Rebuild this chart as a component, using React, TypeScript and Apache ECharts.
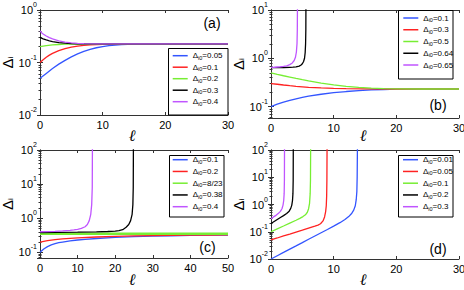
import React, { useEffect, useRef } from 'react';
import * as echarts from 'echarts';

// ---------- data (ℓ, Δ_i) ----------
// panel (a)
const A_LABELS = ['0.05', '0.1', '0.2', '0.3', '0.4'];
const aBlue = [[0,0.05],[1,0.062],[2,0.077],[3,0.093],[4,0.11],[5,0.128],[6,0.146],[7,0.163],[8,0.178],[9,0.191],[10,0.201],[11,0.209],[12,0.215],[13,0.219],[14,0.221],[16,0.224],[18,0.225],[22,0.226],[30,0.226]];
const aRed = [[0,0.1],[0.5,0.113],[1,0.126],[1.5,0.138],[2,0.149],[3,0.168],[4,0.184],[5,0.196],[6,0.205],[7,0.212],[8,0.217],[10,0.222],[12,0.225],[15,0.226],[30,0.226]];
const aGreen = [[0,0.2],[0.5,0.205],[1,0.21],[2,0.216],[3,0.22],[4,0.223],[6,0.225],[8,0.226],[30,0.226]];
const aBlack = [[0,0.3],[0.5,0.283],[1,0.27],[1.5,0.259],[2,0.251],[3,0.24],[4,0.233],[5,0.229],[6,0.227],[8,0.226],[30,0.226]];
const aViolet = [[0,0.4],[0.25,0.37],[0.5,0.35],[1,0.32],[1.5,0.298],[2,0.281],[3,0.259],[4,0.245],[5,0.236],[6,0.231],[7,0.228],[9,0.226],[30,0.226]];

// panel (b)
const B_LABELS = ['0.1', '0.3', '0.5', '0.64', '0.65'];
const bBlue = [[0,0.1],[1,0.112],[2,0.124],[3,0.135],[4,0.145],[5,0.155],[6,0.164],[8,0.18],[10,0.194],[12,0.205],[14,0.214],[16,0.221],[18,0.226],[20,0.229],[24,0.231],[30,0.231]];
const bRed = [[0,0.3],[1,0.29],[2,0.28],[3,0.271],[4,0.263],[6,0.251],[8,0.243],[10,0.238],[12,0.235],[15,0.232],[20,0.231],[30,0.231]];
const bGreen = [[0,0.5],[1,0.465],[2,0.435],[3,0.408],[4,0.383],[5,0.361],[6,0.341],[8,0.307],[10,0.281],[12,0.262],[14,0.249],[16,0.241],[18,0.236],[20,0.233],[24,0.231],[30,0.231]];
const bBlack = [[0,0.64],[1,0.642],[2,0.645],[3,0.65],[3.5,0.656],[4,0.667],[4.5,0.69],[4.8,0.725],[5.0,0.77],[5.2,0.86],[5.35,1.0],[5.45,1.3],[5.52,2],[5.56,4],[5.58,20]];
const bViolet = [[0,0.65],[0.5,0.652],[1,0.66],[1.5,0.668],[2,0.68],[2.5,0.7],[3,0.74],[3.4,0.8],[3.7,0.9],[3.9,1.05],[4.05,1.35],[4.15,2],[4.2,4],[4.23,20]];

// panel (c)
const C_LABELS = ['0.1', '0.2', '8/23', '0.38', '0.4'];
const cBlue = [[0,0.1],[1,0.125],[2,0.147],[3,0.165],[4,0.179],[5,0.191],[6,0.2],[8,0.216],[10,0.229],[12,0.24],[15,0.254],[20,0.272],[25,0.287],[30,0.298],[35,0.306],[40,0.312],[45,0.317],[50,0.32]];
const cRed = [[0,0.2],[1,0.21],[2,0.219],[4,0.234],[6,0.246],[8,0.256],[10,0.265],[15,0.281],[20,0.293],[25,0.302],[30,0.309],[35,0.314],[40,0.318],[45,0.321],[50,0.323]];
const cGreen = [[0,0.348],[50,0.348]];
const cBlack = [[0,0.38],[5,0.384],[10,0.39],[15,0.398],[18,0.407],[20,0.418],[21,0.43],[22,0.46],[22.9,0.54],[23.6,0.65],[24.1,0.85],[24.5,1.3],[24.7,2.5],[24.8,8],[24.85,200]];
const cViolet = [[0,0.4],[2,0.405],[4,0.413],[6,0.424],[8,0.44],[9,0.453],[10,0.47],[11,0.5],[12,0.56],[12.6,0.65],[13.1,0.85],[13.5,1.3],[13.75,2.5],[13.9,8],[13.95,200]];

// panel (d)
const D_LABELS = ['0.01', '0.05', '0.1', '0.2', '0.3'];
const dBlue = [[0,0.01],[1,0.0132],[2,0.0174],[3,0.023],[4,0.0303],[5,0.04],[6,0.053],[7,0.07],[8,0.092],[9,0.121],[10,0.16],[11,0.215],[11.8,0.28],[12.4,0.36],[12.9,0.48],[13.2,0.62],[13.45,0.9],[13.6,1.5],[13.7,3],[13.75,10],[13.8,200]];
const dRed = [[0,0.05],[1,0.059],[2,0.07],[3,0.082],[4,0.097],[5,0.114],[6,0.135],[7,0.16],[7.5,0.175],[7.9,0.196],[8.3,0.25],[8.55,0.35],[8.72,0.55],[8.82,0.9],[8.88,2],[8.92,8],[8.95,200]];
const dGreen = [[0,0.1],[1,0.128],[2,0.163],[3,0.208],[4,0.265],[4.6,0.31],[5.1,0.36],[5.5,0.42],[5.8,0.52],[6.0,0.7],[6.15,1.1],[6.25,2.5],[6.3,8],[6.33,200]];
const dBlack = [[0,0.2],[0.5,0.237],[1,0.281],[1.5,0.333],[2,0.39],[2.5,0.47],[2.9,0.57],[3.15,0.72],[3.32,0.95],[3.43,1.4],[3.5,2.5],[3.54,8],[3.56,200]];
const dViolet = [[0,0.3],[0.4,0.35],[0.8,0.4],[1.2,0.48],[1.5,0.56],[1.75,0.7],[1.92,0.95],[2.03,1.4],[2.1,2.5],[2.14,8],[2.16,200]];

const PANEL_TAGS = ['(a)', '(b)', '(c)', '(d)'];
const X_MAX = [30, 30, 50, 30];
const X_TICK = 10;
const Y_MIN = [0.01, 0.058, 0.068, 0.01];
const Y_MAX = [1, 10, 100, 100];

const LABELS = [A_LABELS, B_LABELS, C_LABELS, D_LABELS];
const CURVES = [
  [aBlue, aRed, aGreen, aBlack, aViolet],
  [bBlue, bRed, bGreen, bBlack, bViolet],
  [cBlue, cRed, cGreen, cBlack, cViolet],
  [dBlue, dRed, dGreen, dBlack, dViolet],
];

// ---------- styling ----------
const COLORS = ['#3355ff', '#ff2222', '#77ee33', '#000000', '#c055ff'];
const FONT = 'Liberation Sans, Arial, sans-serif';
const AX = '#333';

const GRIDS = [
  { left: 40, top: 10, width: 188, height: 105 },
  { left: 271, top: 10, width: 188, height: 108 },
  { left: 40, top: 150, width: 188, height: 108 },
  { left: 271, top: 150, width: 188, height: 109 },
];
const NAME_GAP = [22, 24, 22, 24];
const LEGEND_POS = [
  { left: 172.7, top: 51.7, gap: 2.5 },
  { left: 403.3, top: 14, gap: 2.75 },
  { left: 172.7, top: 155.7, gap: 2.75 },
  { left: 403, top: 155.7, gap: 2.75 },
];
const LEGEND_BOX = [
  { x: 168.5, y: 48.5, w: 59.5, h: 66.5 },
  { x: 398.5, y: 10.5, w: 54.5, h: 68.5 },
  { x: 169.5, y: 155.5, w: 54.5, h: 61.5 },
  { x: 398.5, y: 155.5, w: 54.5, h: 61.5 },
];
const TAG_POS = [[212, 23], [438, 105], [207.5, 246.5], [438, 248.5]];
const ELL_POS = [[132, 135], [363, 135], [132, 279], [363, 279]];

const yLabel = (v: number) => {
  const e = Math.log10(v);
  const r = Math.round(e);
  if (Math.abs(e - r) > 1e-6) return '';
  return `{b|10}{s|${r}}`;
};

function buildOption() {
  const xAxis: any[] = [];
  const yAxis: any[] = [];
  const series: any[] = [];
  const legend: any[] = [];
  const graphic: any[] = [];

  GRIDS.forEach((_, i) => {
    const common = {
      type: 'value', gridIndex: i, min: 0, max: X_MAX[i], interval: X_TICK,
      axisLine: { show: true, onZero: false, lineStyle: { color: AX, width: 1 } },
      axisTick: { show: true, inside: true, length: 3, lineStyle: { color: AX } },
      splitLine: { show: false },
    };
    xAxis[i] = { ...common, position: 'bottom',
      axisLabel: { fontSize: 11, color: '#000', fontFamily: FONT, margin: 4 } };
    xAxis[i + 4] = { ...common, position: 'top', axisLabel: { show: false } };

    const ycommon = {
      type: 'log', logBase: 10, gridIndex: i, min: Y_MIN[i], max: Y_MAX[i],
      axisLine: { show: true, lineStyle: { color: AX, width: 1 } },
      axisTick: { show: true, inside: true, length: 3, lineStyle: { color: AX } },
      minorTick: { show: true, splitNumber: 9, length: 1.5, lineStyle: { color: AX } },
      splitLine: { show: false },
      minorSplitLine: { show: false },
    };
    yAxis[i] = { ...ycommon, position: 'left',
      name: '{t|Δ}{s|i}', nameLocation: 'middle', nameRotate: 90, nameGap: NAME_GAP[i],
      nameTextStyle: {
        rich: {
          t: { fontSize: 15, fontFamily: FONT, color: '#000', lineHeight: 14 },
          s: { fontSize: 8, fontFamily: FONT, color: '#000', lineHeight: 8, verticalAlign: 'bottom' },
        },
      },
      axisLabel: {
        formatter: yLabel, margin: 3, showMinLabel: true,
        rich: {
          b: { fontSize: 11, fontFamily: FONT, color: '#000', lineHeight: 18 },
          s: { fontSize: 7, fontFamily: FONT, color: '#000', lineHeight: 8, verticalAlign: 'top' },
        },
      } };
    yAxis[i + 4] = { ...ycommon, position: 'right', axisLabel: { show: false } };

    const names: string[] = [];
    CURVES[i].forEach((data, k) => {
      const name = `${i}|${LABELS[i][k]}`;
      names.push(name);
      series.push({
        type: 'line', name, xAxisIndex: i, yAxisIndex: i, data,
        showSymbol: false, symbol: 'none', clip: true,
        itemStyle: { color: COLORS[k] },
        lineStyle: { color: COLORS[k], width: i === 2 && k === 2 ? 2.6 : 1.3 },
      });
    });

    legend.push({
      orient: 'vertical', left: LEGEND_POS[i].left, top: LEGEND_POS[i].top,
      padding: 0, itemGap: LEGEND_POS[i].gap, itemWidth: 15, itemHeight: 1.5,
      icon: 'rect', selectedMode: false, data: names,
      formatter: (n: string) => `{t|Δ}{s|i0}{t|=${n.split('|')[1]}}`,
      textStyle: {
        fontSize: 8, color: '#000', fontFamily: FONT,
        rich: {
          t: { fontSize: 8, fontFamily: FONT, color: '#000', lineHeight: 10 },
          s: { fontSize: 5.5, fontFamily: FONT, color: '#000', lineHeight: 6, verticalAlign: 'bottom' },
        },
      },
    });

    const b = LEGEND_BOX[i];
    graphic.push({ type: 'rect', z: 1, shape: { x: b.x, y: b.y, width: b.w, height: b.h },
      style: { fill: '#fff', stroke: '#000', lineWidth: 1 } });
    graphic.push({ type: 'text', x: TAG_POS[i][0], y: TAG_POS[i][1], z: 5,
      style: { text: PANEL_TAGS[i], fontSize: 14, fontFamily: FONT, fill: '#000', align: 'center', verticalAlign: 'middle' } });
    graphic.push({ type: 'text', x: ELL_POS[i][0], y: ELL_POS[i][1], z: 5,
      style: { text: 'ℓ', fontSize: 16, fontFamily: 'DejaVu Serif', fontStyle: 'italic', fill: '#000', align: 'center', verticalAlign: 'middle' } });
  });

  return {
    animation: false,
    backgroundColor: '#fff',
    grid: GRIDS.map(g => ({ ...g, show: false, containLabel: false, outerBoundsMode: 'none' })),
    xAxis, yAxis, series, legend, graphic,
  };
}

export default function App() {
  const ref = useRef<HTMLDivElement>(null);
  useEffect(() => {
    if (!ref.current) return;
    const chart = echarts.init(ref.current, null, { renderer: 'svg' });
    chart.setOption(buildOption() as any);
    return () => chart.dispose();
  }, []);
  return <div ref={ref} style={{ position: 'absolute', left: 0, top: 0, width: 464, height: 290 }} />;
}
